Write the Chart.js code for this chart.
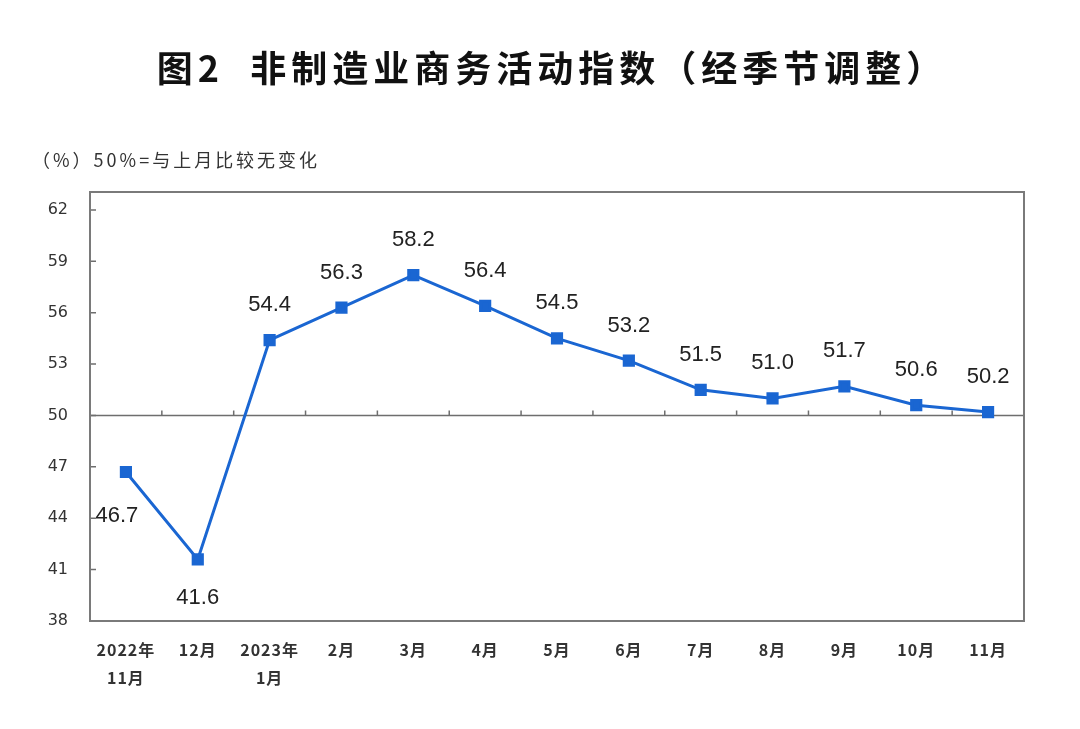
<!DOCTYPE html>
<html>
<head>
<meta charset="utf-8">
<script src="https://cdn.jsdelivr.net/npm/chart.js@4"></script>
<style>
  html, body { margin: 0; padding: 0; background: #fff; }
  #wrap { position: relative; width: 1080px; height: 729px; }
</style>
</head>
<body>
<div id="wrap"><canvas id="chart" width="1080" height="729"></canvas></div>
<script>
// data
const months = [
  ["2022年", "11月"], "12月", ["2023年", "1月"], "2月", "3月", "4月",
  "5月", "6月", "7月", "8月", "9月", "10月", "11月"
];
const indexValues = [46.7, 41.6, 54.4, 56.3, 58.2, 56.4, 54.5, 53.2, 51.5, 51.0, 51.7, 50.6, 50.2];
const yTicks = [38, 41, 44, 47, 50, 53, 56, 59, 62];
// where each value label sits relative to its point
const labelPlacement = ["belowLeft", "below", "above", "above", "above", "above", "above",
  "above", "above", "above", "above", "above", "above"];

const chartTitle = "图2  非制造业商务活动指数（经季节调整）";
const unitNote = "（%）50%=与上月比较无变化";

const lineColor = "#1a66d2";
const textColor = "#333333";

// draws frame, axis text, the 50 line and the value labels
const decorations = {
  id: "decorations",
  beforeDatasetsDraw(chart) {
    const { ctx, chartArea: a, scales } = chart;
    const y = scales.y, x = scales.x;
    ctx.save();

    // 50 baseline
    const y50 = y.getPixelForValue(50);
    ctx.strokeStyle = "#6e6e6e";
    ctx.lineWidth = 1.5;
    ctx.beginPath();
    ctx.moveTo(a.left, y50);
    ctx.lineTo(a.right, y50);
    ctx.stroke();

    // small ticks on the baseline between months
    ctx.beginPath();
    for (let i = 1; i < months.length; i++) {
      const bx = (x.getPixelForValue(i) + x.getPixelForValue(i - 1)) / 2;
      ctx.moveTo(bx, y50);
      ctx.lineTo(bx, y50 - 5);
    }
    ctx.stroke();

    // inner ticks on the left edge
    ctx.beginPath();
    yTicks.forEach(v => {
      const py = y.getPixelForValue(v);
      ctx.moveTo(a.left, py);
      ctx.lineTo(a.left + 6, py);
    });
    ctx.stroke();

    // frame
    ctx.strokeStyle = "#7a7a7a";
    ctx.lineWidth = 2;
    ctx.strokeRect(a.left, a.top, a.right - a.left, a.bottom - a.top);

    // y tick labels
    ctx.fillStyle = textColor;
    ctx.font = "16px 'DejaVu Sans'";
    ctx.textAlign = "right";
    ctx.textBaseline = "middle";
    yTicks.forEach(v => ctx.fillText(String(v), a.left - 22, y.getPixelForValue(v)));

    // x labels
    ctx.font = "bold 16px 'Noto Sans CJK SC'";
    ctx.letterSpacing = "1px";
    ctx.textAlign = "center";
    months.forEach((m, i) => {
      const lines = Array.isArray(m) ? m : [m];
      const px = x.getPixelForValue(i);
      lines.forEach((t, k) => ctx.fillText(t, px, a.bottom + 29 + k * 28));
    });

    // title and note
    ctx.fillStyle = "#111";
    ctx.font = "bold 36px 'Noto Sans CJK SC'";
    ctx.letterSpacing = "5px";
    ctx.fillText(chartTitle, 552, 68);
    ctx.fillStyle = textColor;
    ctx.font = "18px 'Noto Sans CJK SC'";
    ctx.letterSpacing = "3px";
    ctx.textAlign = "left";
    ctx.fillText(unitNote, 32, 160);
    ctx.letterSpacing = "0px";
    ctx.restore();
  },
  afterDatasetsDraw(chart) {
    const { ctx } = chart;
    const meta = chart.getDatasetMeta(0);
    ctx.save();
    ctx.fillStyle = "#222";
    ctx.font = "22px 'Liberation Sans'";
    ctx.textAlign = "center";
    ctx.textBaseline = "middle";
    meta.data.forEach((pt, i) => {
      const label = indexValues[i].toFixed(1);
      let lx = pt.x, ly = pt.y - 35;
      if (labelPlacement[i] === "below") ly = pt.y + 39;
      if (labelPlacement[i] === "belowLeft") { lx = pt.x - 9; ly = pt.y + 44; }
      ctx.fillText(label, lx, ly);
    });
    ctx.restore();
  }
};

new Chart(document.getElementById("chart"), {
  type: "line",
  data: {
    labels: months,
    datasets: [{
      data: indexValues,
      borderColor: lineColor,
      backgroundColor: lineColor,
      borderWidth: 3,
      pointStyle: "rect",
      pointRadius: 6.5,
      pointHoverRadius: 6.5,
      tension: 0
    }]
  },
  options: {
    responsive: false,
    animation: false,
    layout: { padding: { left: 90, right: 56, top: 192, bottom: 108 } },
    scales: {
      x: { display: false, offset: true },
      y: { display: false, min: 38, max: 63.05 }
    },
    plugins: {
      legend: { display: false },
      tooltip: { enabled: false }
    }
  },
  plugins: [decorations]
});
</script>
</body>
</html>
